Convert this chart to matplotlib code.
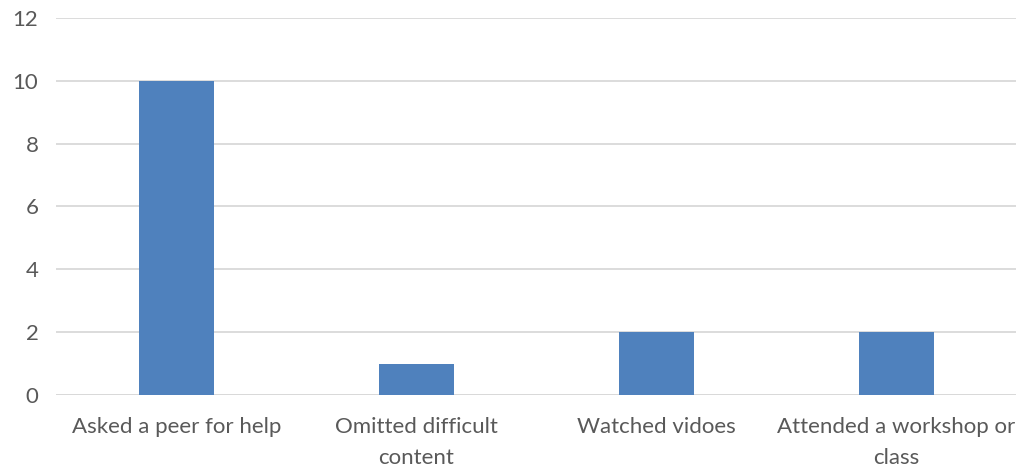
import numpy as np
import matplotlib.pyplot as plt

plt.rcParams['font.family'] = ['Lato', 'DejaVu Sans']

# Survey responses per strategy
categories = ['Asked a peer for help', 'Omitted difficult\ncontent',
              'Watched vidoes', 'Attended a workshop or\nclass']
counts = [10, 1, 2, 2]
y_ticks = [0, 2, 4, 6, 8, 10, 12]

bar_color = '#4f81bd'
text_color = '#595959'
grid_color = '#d9d9d9'

fig = plt.figure(figsize=(10.18, 4.70), dpi=100)
ax = fig.add_axes([0.0555, 0.1596, 0.943, 0.8021])

x = np.arange(len(categories))
ax.bar(x, counts, width=0.3125, color=bar_color, zorder=3)

ax.set_xlim(-0.5, len(categories) - 0.5)
ax.set_ylim(0, 12)
ax.set_yticks(y_ticks)
ax.set_yticklabels([str(t) for t in y_ticks])
ax.set_xticks(x)
ax.set_xticklabels(categories, linespacing=1.65)

ax.yaxis.grid(True, color=grid_color, linewidth=1.3, zorder=0)
ax.set_axisbelow(True)
for side in ['top', 'right', 'left', 'bottom']:
    ax.spines[side].set_visible(False)
ax.axhline(0, color=grid_color, linewidth=1.3, zorder=1)

ax.tick_params(axis='both', length=0, labelsize=16, colors=text_color)
ax.tick_params(axis='x', pad=16)
ax.tick_params(axis='y', pad=13)

fig.savefig('out.png', dpi=100, facecolor='white')
